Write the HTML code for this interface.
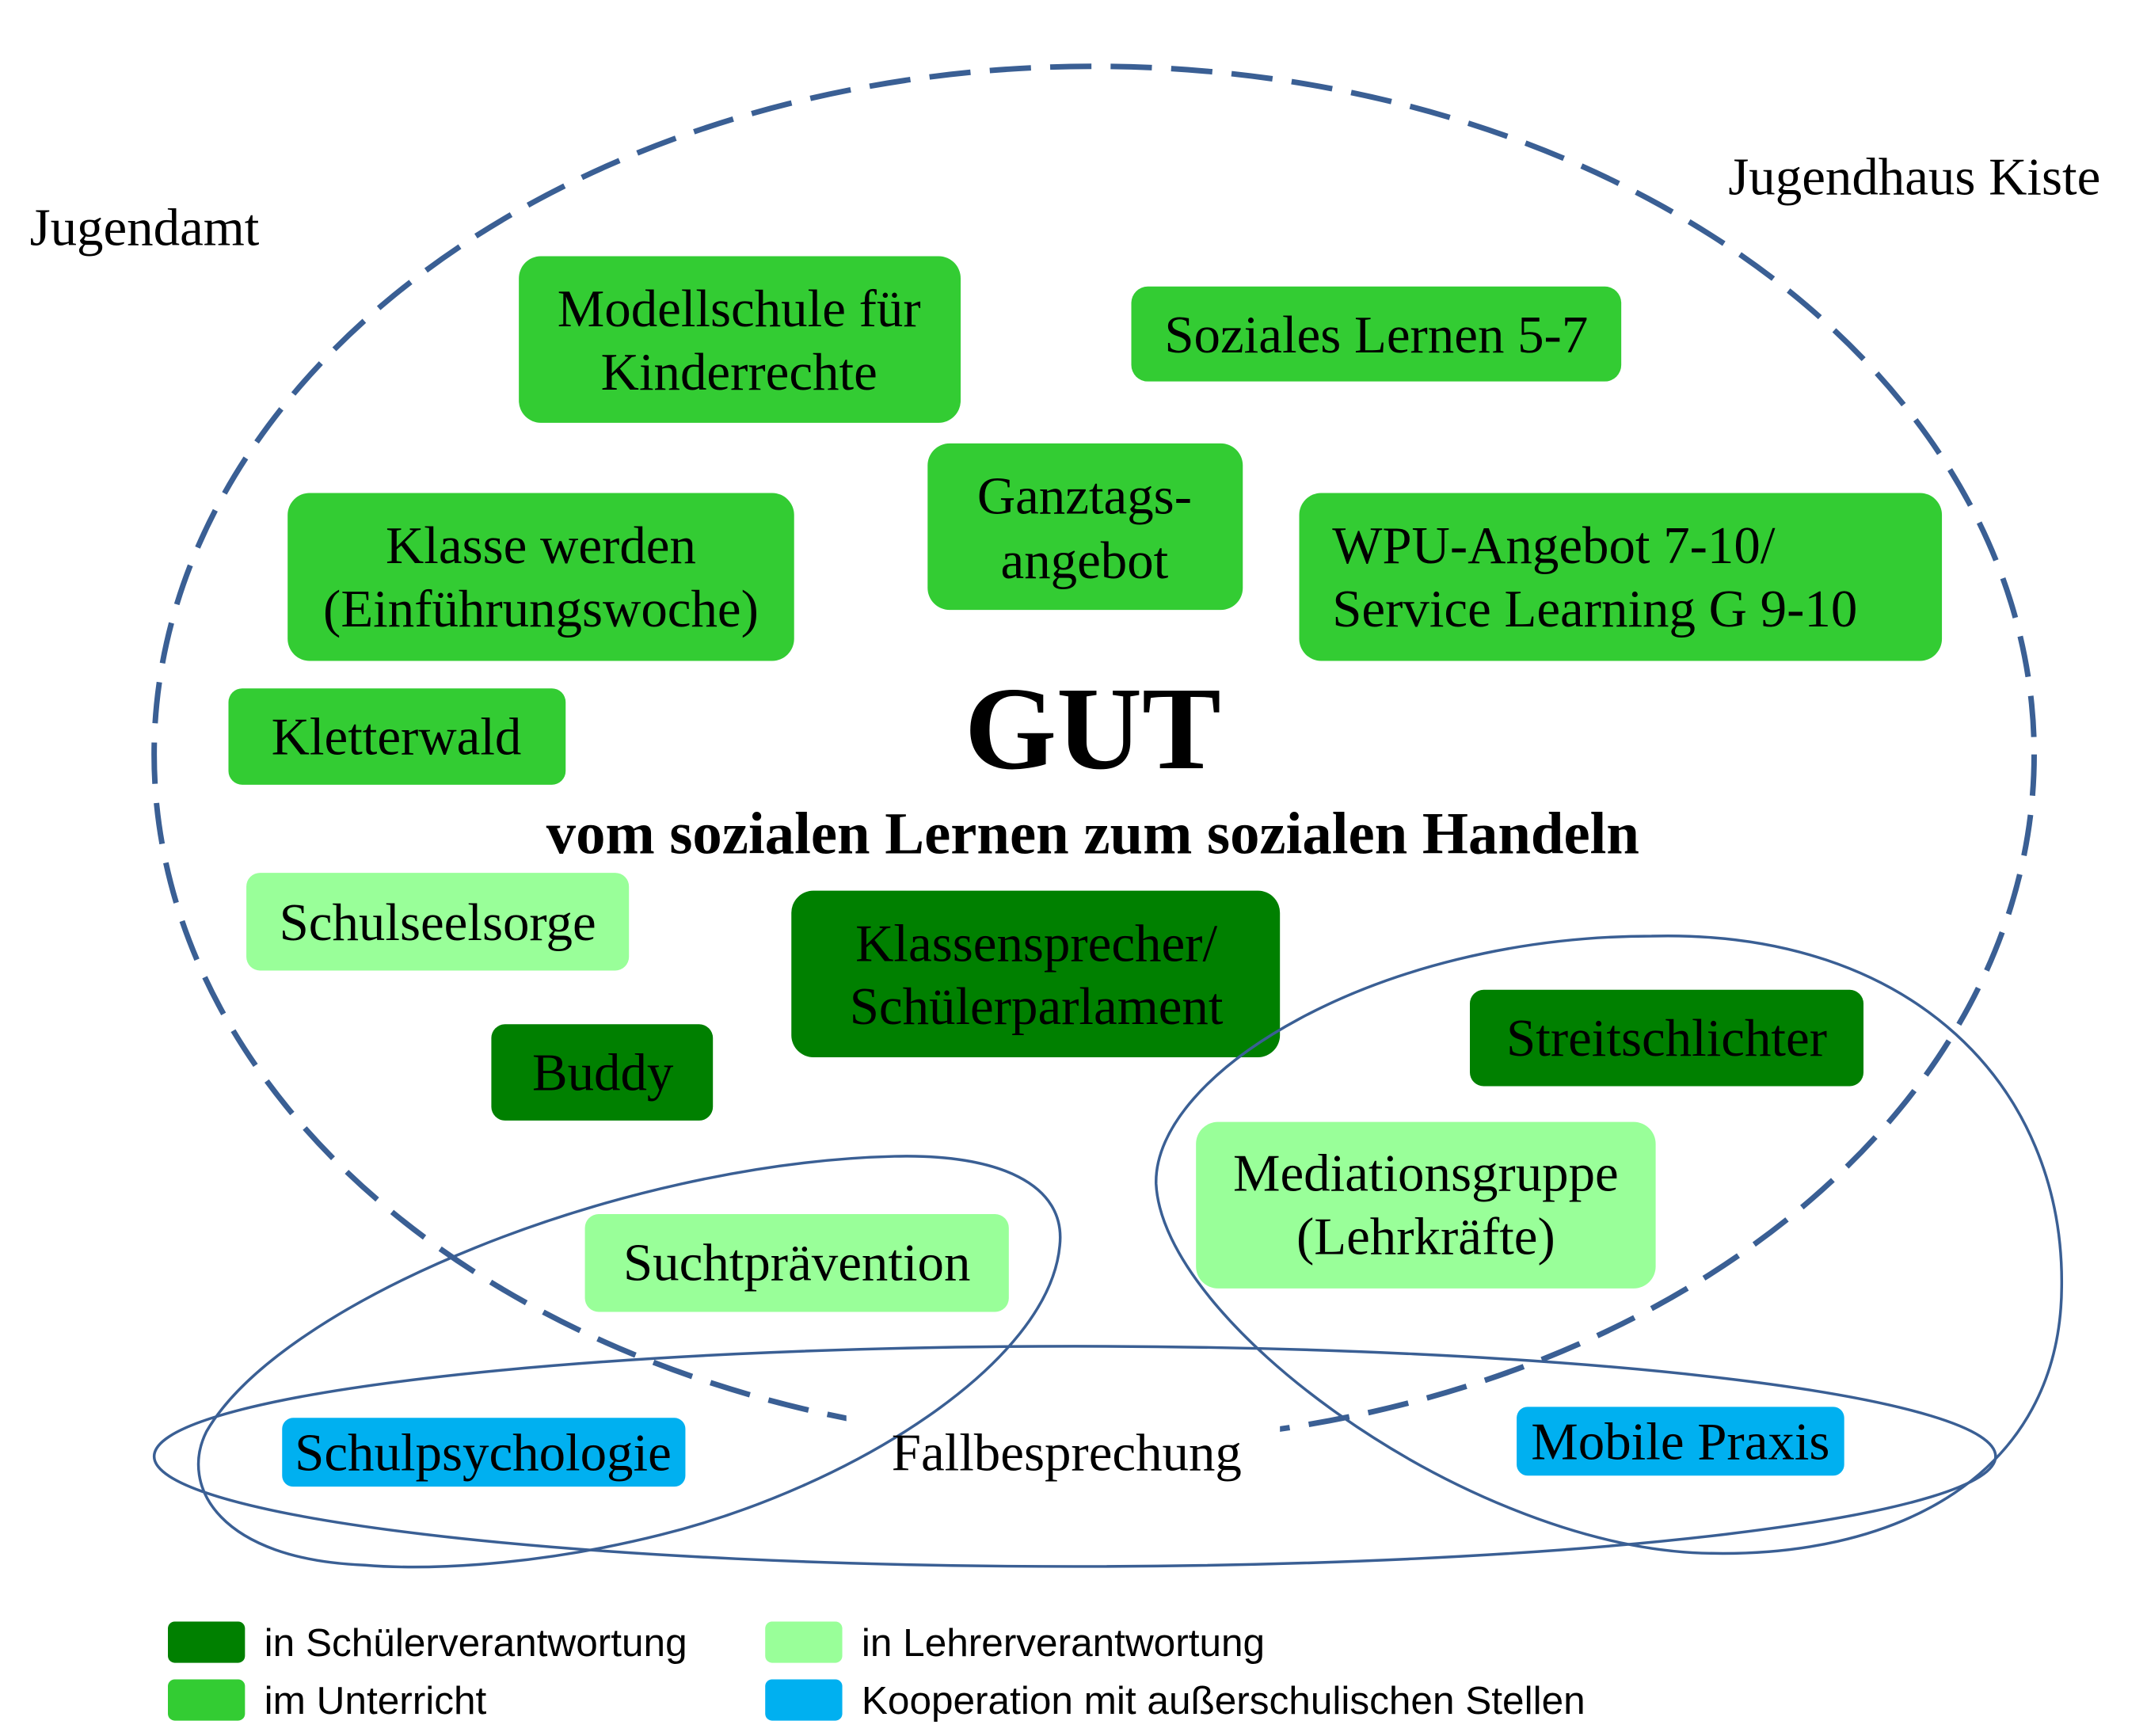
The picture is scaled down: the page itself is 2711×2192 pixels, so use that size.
<!DOCTYPE html>
<html><head><meta charset="utf-8"><style>
html,body{margin:0;padding:0;background:#fff;}
svg{display:block;}
text{font-family:"Liberation Serif",serif;}
.s{font-family:"Liberation Sans",sans-serif;}
</style></head><body>
<svg width="2711" height="2192" viewBox="0 0 1560 1261" xmlns="http://www.w3.org/2000/svg">
<rect width="1560" height="1261" fill="#fff"/>
<g>
<rect x="377" y="186" width="321" height="121" rx="16" fill="#33cc33"/>
<rect x="822" y="208" width="356" height="69" rx="12" fill="#33cc33"/>
<rect x="674" y="322" width="229" height="121" rx="16" fill="#33cc33"/>
<rect x="209" y="358" width="368" height="122" rx="16" fill="#33cc33"/>
<rect x="944" y="358" width="467" height="122" rx="16" fill="#33cc33"/>
<rect x="166" y="500" width="245" height="70" rx="10" fill="#33cc33"/>
<rect x="179" y="634" width="278" height="71" rx="10" fill="#99ff99"/>
<rect x="575" y="647" width="355" height="121" rx="16" fill="#008000"/>
<rect x="357" y="744" width="161" height="70" rx="10" fill="#008000"/>
<rect x="1068" y="719" width="286" height="70" rx="10" fill="#008000"/>
<rect x="869" y="815" width="334" height="121" rx="16" fill="#99ff99"/>
<rect x="425" y="882" width="308" height="71" rx="10" fill="#99ff99"/>
<rect x="205" y="1030" width="293" height="50" rx="8" fill="#00b0f0"/>
<rect x="1102" y="1022" width="238" height="50" rx="8" fill="#00b0f0"/>
</g>
<ellipse cx="795" cy="548" rx="683" ry="500" fill="none" stroke="#3a5f94" stroke-width="4" stroke-dasharray="30 14"/>
<rect x="615" y="1025" width="315" height="50" fill="#fff"/>
<ellipse cx="781" cy="1058" rx="669" ry="80" fill="none" stroke="#3a5f94" stroke-width="2"/>
<path d="M650,840 C725,838 775,860 770,905 C762,990 620,1080 480,1115 C380,1140 300,1140 265,1137 C160,1133 130,1080 150,1040 C205,945 450,845 650,840 Z" fill="none" stroke="#3a5f94" stroke-width="2"/>
<path d="M1200,680 C1390,675 1500,790 1498,935 C1497,1070 1380,1135 1230,1128 C1060,1118 845,960 840,860 C838,780 1000,680 1200,680 Z" fill="none" stroke="#3a5f94" stroke-width="2"/>
<g font-size="38.5" fill="#000" text-anchor="middle">
<text x="537" y="237">Modellschule für</text>
<text x="537" y="283">Kinderrechte</text>
<text x="1000" y="256">Soziales Lernen 5-7</text>
<text x="788" y="373">Ganztags-</text>
<text x="788" y="420">angebot</text>
<text x="393" y="409">Klasse werden</text>
<text x="393" y="455">(Einführungswoche)</text>
<text x="968" y="409" text-anchor="start">WPU-Angebot 7-10/</text>
<text x="968" y="455" text-anchor="start">Service Learning G 9-10</text>
<text x="288" y="548">Kletterwald</text>
<text x="318" y="683">Schulseelsorge</text>
<text x="753" y="698">Klassensprecher/</text>
<text x="753" y="744">Schülerparlament</text>
<text x="438" y="792">Buddy</text>
<text x="1211" y="767">Streitschlichter</text>
<text x="1036" y="865">Mediationsgruppe</text>
<text x="1036" y="911">(Lehrkräfte)</text>
<text x="579" y="930">Suchtprävention</text>
<text x="351" y="1068">Schulpsychologie</text>
<text x="1221" y="1060">Mobile Praxis</text>
<text x="775" y="1068">Fallbesprechung</text>
<text x="105" y="178">Jugendamt</text>
<text x="1391" y="141">Jugendhaus Kiste</text>
</g>
<text x="794" y="558" font-size="86" font-weight="bold" text-anchor="middle">GUT</text>
<text x="794" y="620" font-size="43" font-weight="bold" text-anchor="middle">vom sozialen Lernen zum sozialen Handeln</text>
<rect x="122" y="1178" width="56" height="30" rx="5" fill="#008000"/>
<rect x="122" y="1220" width="56" height="30" rx="5" fill="#33cc33"/>
<rect x="556" y="1178" width="56" height="30" rx="5" fill="#99ff99"/>
<rect x="556" y="1220" width="56" height="30" rx="5" fill="#00b0f0"/>
<g font-size="28.5" fill="#000">
<text class="s" x="192" y="1203">in Schülerverantwortung</text>
<text class="s" x="192" y="1245">im Unterricht</text>
<text class="s" x="626" y="1203">in Lehrerverantwortung</text>
<text class="s" x="626" y="1245">Kooperation mit außerschulischen Stellen</text>
</g>
</svg>
</body></html>
